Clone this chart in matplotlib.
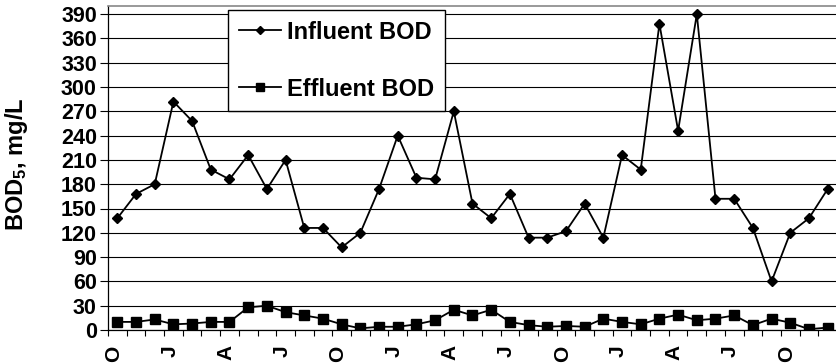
import numpy as np
import matplotlib
matplotlib.use('Agg')
import matplotlib.pyplot as plt

# monthly BOD5, Oct through Dec three years later
influent = [138, 168, 180, 282, 258, 198, 186, 216, 174, 210,
            126, 126, 102, 120, 174, 240, 188, 186, 270, 156,
            138, 168, 114, 114, 122, 156, 114, 216, 198, 378,
            246, 390, 162, 162, 126, 60, 120, 138, 174]
effluent = [10, 10, 13, 7, 8, 10, 10, 28, 30, 22,
            18, 14, 7, 2, 4, 4, 7, 12, 25, 18,
            25, 10, 6, 4, 5, 4, 14, 10, 7, 14,
            19, 12, 14, 18, 6, 14, 9, 1, 3]
month_labels = ['O', 'J', 'A', 'J', 'O', 'J', 'A', 'J', 'O', 'J', 'A', 'J', 'O']
y_ticks = list(range(0, 391, 30))

plt.rcParams.update({'font.family': 'Liberation Sans', 'font.weight': 'bold',
                     'mathtext.fontset': 'custom',
                     'mathtext.rm': 'Liberation Sans:bold',
                     'mathtext.default': 'rm'})

fig = plt.figure(figsize=(8.37, 3.63), dpi=100)
ax = fig.add_axes([108 / 837, 33 / 363, 729 / 837, 324 / 363])

x = np.arange(len(influent))
ax.plot(x, influent, '-', color='black', lw=1.3, marker='D', ms=5.5,
        mfc='black', mec='black', label='Influent BOD')
ax.plot(x, effluent, '-', color='black', lw=1.3, marker='s', ms=6.5,
        mfc='black', mec='black', label='Effluent BOD')

ax.set_xlim(-0.5, len(x) - 0.5)
ax.set_ylim(0, 400)
ax.set_yticks(y_ticks)
ax.set_yticklabels([str(v) for v in y_ticks], fontsize=15.5, fontweight='bold')
ax.yaxis.grid(True, color='black', lw=0.8)
ax.set_axisbelow(True)

# tick marks between months, letters every quarter
ax.set_xticks(np.arange(-0.5, len(x) + 0.5, 1.0), minor=True)
ax.set_xticks(np.arange(0, len(x), 3) - 0.2)
ax.set_xticklabels(month_labels, rotation=90, fontsize=15,
                   fontweight='bold', va='top', ha='center')
ax.tick_params(axis='x', which='major', length=0, pad=11)
ax.tick_params(axis='x', which='minor', length=4, width=0.8, direction='out')
ax.tick_params(axis='y', length=6, width=0.8, direction='out', pad=2)

for s in ('top', 'right'):
    ax.spines[s].set_color('#888888')
    ax.spines[s].set_linewidth(1.2)
for s in ('left', 'bottom'):
    ax.spines[s].set_color('black')
    ax.spines[s].set_linewidth(0.9)

fig.text(17 / 837, 1 - 164 / 363, r'BOD$_5$, mg/L', rotation=90,
         ha='center', va='center', fontsize=17, fontweight='bold')

leg = ax.legend(loc='upper left', bbox_to_anchor=(0.165, 0.988),
                borderaxespad=0, fontsize=17, frameon=True, fancybox=False,
                framealpha=1, edgecolor='black', handlelength=1.8,
                handletextpad=0.25, borderpad=0.45, labelspacing=1.45,
                markerscale=0.8)
leg.get_frame().set_linewidth(1.0)

fig.savefig('out.png', dpi=100)
